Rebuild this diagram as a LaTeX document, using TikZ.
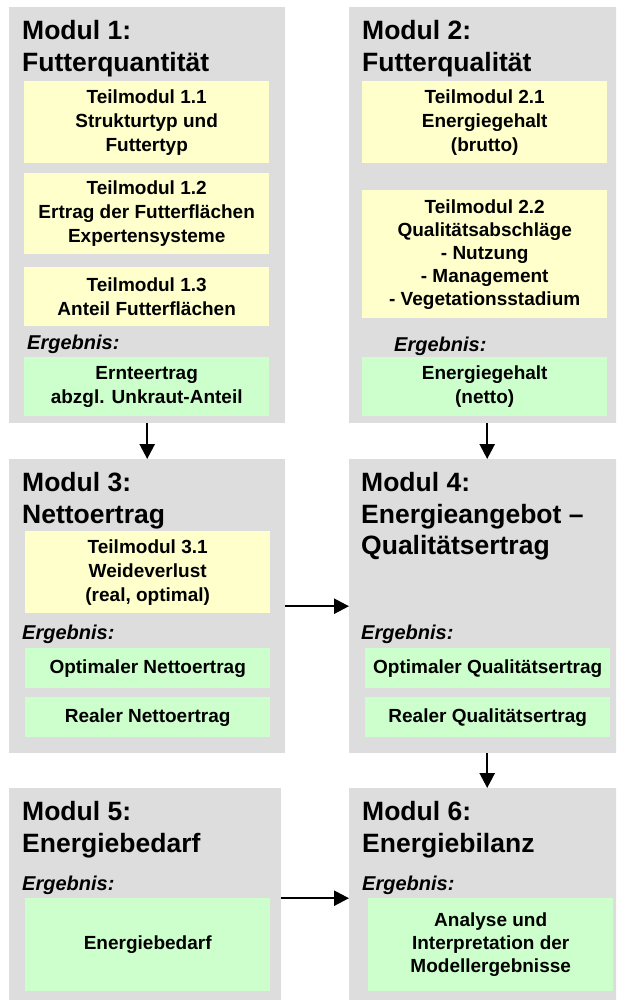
\documentclass[tikz,border=0pt]{standalone}
\usepackage{fontspec}
\setmainfont{Liberation Sans}
\usetikzlibrary{arrows.meta}

\definecolor{modgray}{HTML}{DDDDDD}
\definecolor{subyellow}{HTML}{FFFFCC}
\definecolor{resgreen}{HTML}{CCFFCC}

\newcommand{\titlefont}{\fontsize{26.5}{32}\selectfont\bfseries}
\newcommand{\bodyfont}{\fontsize{19}{24}\selectfont\bfseries}

\tikzset{
  modbox/.style={fill=modgray, draw=none, anchor=north west, inner sep=0pt},
  subbox/.style={fill=subyellow, draw=none, anchor=north west, inner sep=0pt,
                 align=center, font=\bodyfont, minimum width=245pt},
  resbox/.style={fill=resgreen, draw=none, anchor=north west, inner sep=0pt,
                 align=center, font=\bodyfont, minimum width=245pt},
  modtitle/.style={anchor=base west, inner sep=0pt, font=\titlefont},
  ergebnis/.style={anchor=base west, inner sep=0pt, font=\fontsize{20}{24}\selectfont\bfseries\itshape},
  flow/.style={-{Triangle[width=15pt,length=15pt]}, line width=2.5pt}
}

\begin{document}
\begin{tikzpicture}[x=1pt, y=-1pt]
\useasboundingbox (0,0) rectangle (616,1000);
\clip (0,0) rectangle (616,1000);

% module frames
\node[modbox, minimum width=276pt, minimum height=416pt] (m1) at (9,7) {};
\node[modbox, minimum width=276pt, minimum height=416pt] (m2) at (349,7) {};
\node[modbox, minimum width=276pt, minimum height=294pt] (m3) at (9,459) {};
\node[modbox, minimum width=276pt, minimum height=294pt] (m4) at (349,459) {};
\node[modbox, minimum width=272pt, minimum height=220pt] (m5) at (9,788) {};
\node[modbox, minimum width=276pt, minimum height=220pt] (m6) at (349,788) {};

% module titles
\node[modtitle] (m1a) at (22,39.5) {Modul 1:};
\node[modtitle] (m1b) at (22,71.5) {Futterquantität};
\node[modtitle] (m2a) at (362,39.5) {Modul 2:};
\node[modtitle] (m2b) at (362,71.5) {Futterqualität};
\node[modtitle] (m3a) at (22,491.5) {Modul 3:};
\node[modtitle] (m3b) at (22,523.5) {Nettoertrag};
\node[modtitle] (m4a) at (361,491.5) {Modul 4:};
\node[modtitle] (m4b) at (361,523.5) {Energieangebot –};
\node[modtitle] (m4c) at (361,554.5) {Qualitätsertrag};
\node[modtitle] (m5a) at (22,820.5) {Modul 5:};
\node[modtitle] (m5b) at (22,852.5) {Energiebedarf};
\node[modtitle] (m6a) at (362,820.5) {Modul 6:};
\node[modtitle] (m6b) at (362,852.5) {Energiebilanz};

% sub-modules
\node[subbox, minimum height=82pt] (t11) at (24,81) {Teilmodul 1.1\\Strukturtyp und\\Futtertyp};
\node[subbox, minimum height=81pt] (t12) at (24,173) {Teilmodul 1.2\\Ertrag der Futterflächen\\Expertensysteme};
\node[subbox, minimum height=59pt] (t13) at (24,267) {Teilmodul 1.3\\Anteil Futterflächen};
\node[subbox, minimum height=82pt] (t21) at (362,81) {Teilmodul 2.1\\Energiegehalt\\(brutto)};
\node[subbox, minimum height=128pt, font=\fontsize{19}{23}\selectfont\bfseries] (t22) at (362,190)
  {Teilmodul 2.2\\Qualitätsabschläge\\- Nutzung\\- Management\\- Vegetationsstadium};
\node[subbox, minimum height=82pt] (t31) at (25,531) {Teilmodul 3.1\\Weideverlust\\(real, optimal)};

% result labels
\node[ergebnis] (r1) at (27,349.2) {Ergebnis:};
\node[ergebnis] (r2) at (394,351.2) {Ergebnis:};
\node[ergebnis] (r3) at (22,639.2) {Ergebnis:};
\node[ergebnis] (r4) at (361,639.2) {Ergebnis:};
\node[ergebnis] (r5) at (22,890.2) {Ergebnis:};
\node[ergebnis] (r6) at (362,890.2) {Ergebnis:};

% results
\node[resbox, minimum height=59pt] (e1) at (24,357) {Ernteertrag\\abzgl. Unkraut-Anteil};
\node[resbox, minimum height=59pt] (e2) at (362,357) {Energiegehalt\\(netto)};
\node[resbox, minimum height=40pt] (e3a) at (25,648) {Optimaler Nettoertrag};
\node[resbox, minimum height=40pt] (e3b) at (25,697) {Realer Nettoertrag};
\node[resbox, minimum height=40pt] (e4a) at (365,648) {Optimaler Qualitätsertrag};
\node[resbox, minimum height=40pt] (e4b) at (365,697) {Realer Qualitätsertrag};
\node[resbox, minimum height=93pt] (e5) at (25,898) {Energiebedarf};
\node[resbox, minimum height=93pt, font=\fontsize{19}{23}\selectfont\bfseries] (e6) at (368,898)
  {Analyse und\\Interpretation der\\Modellergebnisse};

% flow between modules
\draw[flow] (m1.south) -- (m3.north);
\draw[flow] (m2.south) -- (m4.north);
\draw[flow] (m3.east) -- (m4.west);
\draw[flow] (m4.south) -- (m6.north);
\draw[flow] (m5.east) -- (m6.west);
\end{tikzpicture}
\end{document}
